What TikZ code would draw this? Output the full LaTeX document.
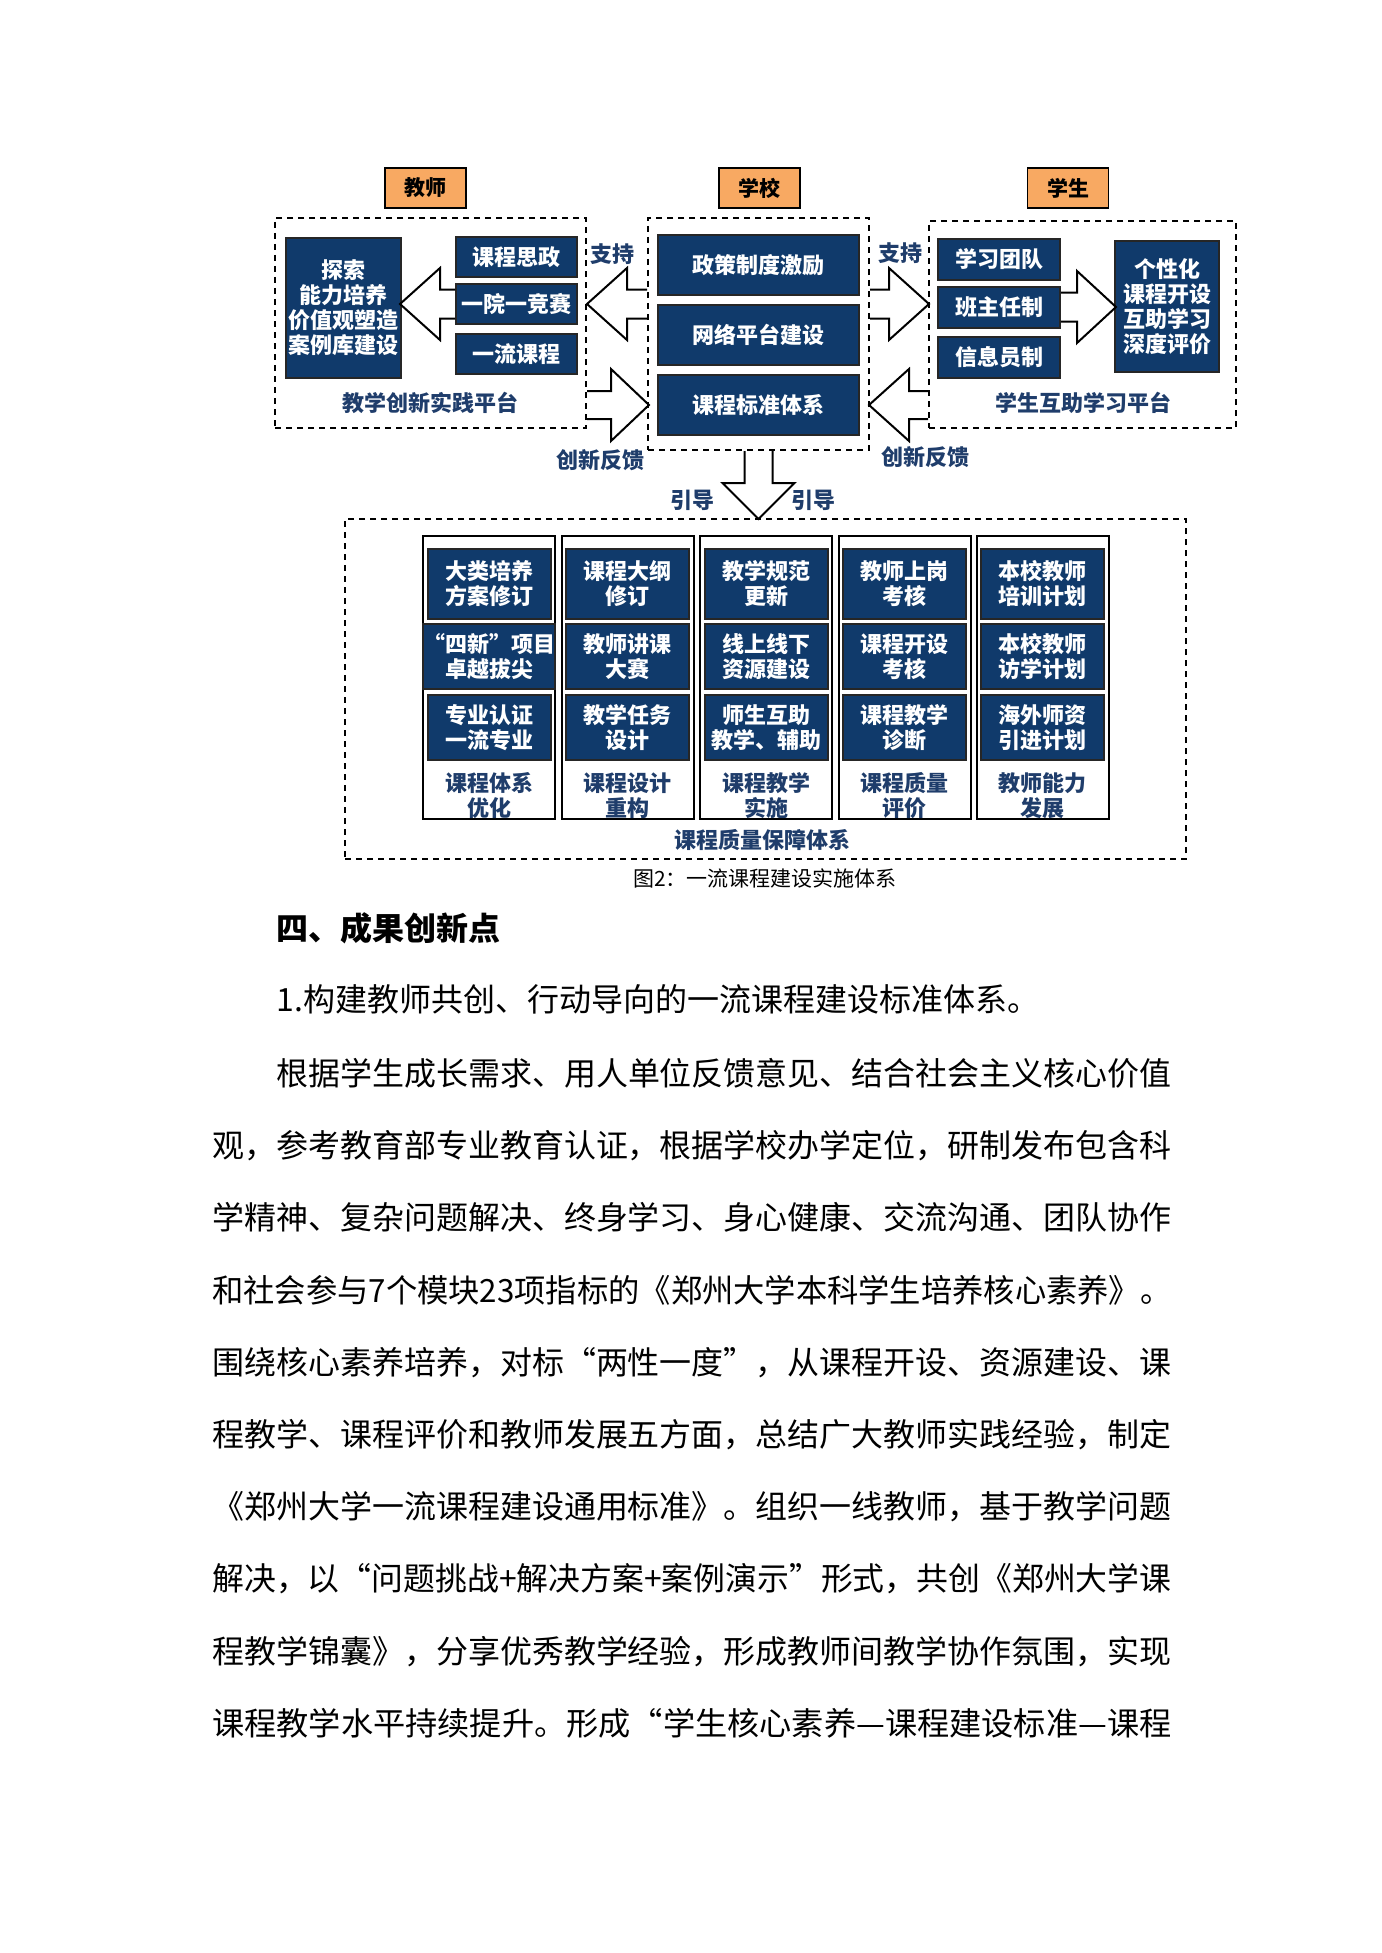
\documentclass[tikz,border=0pt]{standalone}
\usepackage{fontspec}
\setmainfont{Noto Sans CJK SC}
\definecolor{navy}{RGB}{16,58,107}
\definecolor{labelblue}{RGB}{31,61,107}
\definecolor{hdorange}{RGB}{248,169,98}
\tikzset{
  hdbox/.style={draw=black, line width=0.9pt, fill=hdorange, minimum width=40.5pt, minimum height=20pt, inner sep=0pt, font=\bfseries\fontsize{10.5}{12}\selectfont},
  platform/.style={draw=black, line width=1pt, dash pattern=on 3pt off 2.5pt, inner sep=0pt},
  navybox/.style={draw=black!85, line width=1pt, fill=navy, text=white, align=center, inner sep=0pt, font=\bfseries\fontsize{11}{12.5}\selectfont},
  cellA/.style={navybox, minimum width=61.5pt, minimum height=35pt},
  cellB/.style={navybox, minimum width=61.5pt, minimum height=32.5pt},
  colframe/.style={draw=black, line width=1pt, minimum width=66pt, minimum height=141.5pt, inner sep=0pt},
  lbl/.style={text=labelblue, align=center, inner sep=0pt, font=\bfseries\fontsize{11}{12.5}\selectfont},
  hollow/.style={draw=black, line width=1pt, line join=miter},
  bodyline/.style={anchor=west, inner sep=0pt, font=\fontsize{16}{16}\selectfont},
}
% tail, angle, length, shaft half width, head length
\newcommand{\hollowarrow}[5]{%
  \draw[hollow, shift={#1}, rotate=#2] (0,-#4) -- (#3-#5,-#4) -- (#3-#5,-36) -- (#3,0) -- (#3-#5,36) -- (#3-#5,#4) -- (0,#4);}
\newcommand{\fullline}[1]{\resizebox{479.5pt}{\height}{#1}}

\begin{document}
\begin{tikzpicture}[x=0.5pt, y=-0.5pt]
  \useasboundingbox (0,0) rectangle (1381,1953);
  % three actors
  \node[hdbox] (teacherhd) at (425.5,188) {教师};
  \node[hdbox] (schoolhd) at (759.5,188) {学校};
  \node[hdbox] (studenthd) at (1068,188) {学生};

  \node[platform, minimum width=155.5pt, minimum height=105pt] (tplat) at (430.5,323) {};
  \node[platform, minimum width=110.5pt, minimum height=116pt] (splat) at (758.5,334) {};
  \node[platform, minimum width=153.5pt, minimum height=103.5pt] (uplat) at (1082.5,324.5) {};
  \node[platform, minimum width=420.5pt, minimum height=170pt] (qplat) at (765.5,689) {};

  % teacher side
  \node[navybox, minimum width=57.5pt, minimum height=70pt] (tx) at (343.5,308) {探索\\能力培养\\价值观塑造\\案例库建设};
  \node[navybox, minimum width=60.5pt, minimum height=20pt] (t1) at (516.5,257) {课程思政};
  \node[navybox, minimum width=60.5pt, minimum height=20pt] (t2) at (516.5,304) {一院一竞赛};
  \node[navybox, minimum width=60.5pt, minimum height=20pt] (t3) at (516.5,354) {一流课程};
  \node[lbl] (tlbl) at (430,403) {教学创新实践平台};

  % school
  \node[navybox, minimum width=100.5pt, minimum height=30pt] (s1) at (758.5,265) {政策制度激励};
  \node[navybox, minimum width=100.5pt, minimum height=30pt] (s2) at (758.5,335) {网络平台建设};
  \node[navybox, minimum width=100.5pt, minimum height=30pt] (s3) at (758.5,405) {课程标准体系};

  % students
  \node[navybox, minimum width=61pt, minimum height=20.5pt] (u1) at (999,259.5) {学习团队};
  \node[navybox, minimum width=61pt, minimum height=20.5pt] (u2) at (999,307) {班主任制};
  \node[navybox, minimum width=61pt, minimum height=20.5pt] (u3) at (999,357) {信息员制};
  \node[navybox, minimum width=52pt, minimum height=65.5pt] (ux) at (1167,306.5) {个性化\\课程开设\\互助学习\\深度评价};
  \node[lbl] (ulbl) at (1083,403) {学生互助学习平台};

  \hollowarrow{(t2.west)}{180}{55}{14.5}{40}
  \hollowarrow{(splat.west |- t2)}{180}{60}{14.5}{40}
  \hollowarrow{(tplat.east |- s3)}{0}{62}{14}{38}
  \hollowarrow{(splat.east |- t2)}{0}{59}{14.5}{40}
  \hollowarrow{(uplat.west |- s3)}{180}{59}{14}{40}
  \hollowarrow{(u2.east)}{0}{55}{14.5}{39}
  \hollowarrow{(splat.south)}{-90}{68}{14}{36}

  \node[lbl] (zc1) at (612,254) {支持};
  \node[lbl] (zc2) at (900,253) {支持};
  \node[lbl] (fk1) at (600,460) {创新反馈};
  \node[lbl] (fk2) at (925,457) {创新反馈};
  \node[lbl] (yd1) at (692,500) {引导};
  \node[lbl] (yd2) at (813,500) {引导};

  % quality columns
  \node[colframe] (col1) at (489,677.5) {};
  \node[colframe] (col2) at (627.5,677.5) {};
  \node[colframe] (col3) at (766,677.5) {};
  \node[colframe] (col4) at (904.5,677.5) {};
  \node[colframe] (col5) at (1042.5,677.5) {};

  \node[cellA] (c1a) at (489,584) {大类培养\\方案修订};
  \node[cellB] (c1b) at (489,656.5) {“四新”项目\\卓越拔尖};
  \node[cellB] (c1c) at (489,727.5) {专业认证\\一流专业};
  \node[lbl] (c1l) at (489,796) {课程体系\\优化};

  \node[cellA] (c2a) at (627.5,584) {课程大纲\\修订};
  \node[cellB] (c2b) at (627.5,656.5) {教师讲课\\大赛};
  \node[cellB] (c2c) at (627.5,727.5) {教学任务\\设计};
  \node[lbl] (c2l) at (627.5,796) {课程设计\\重构};

  \node[cellA] (c3a) at (766,584) {教学规范\\更新};
  \node[cellB] (c3b) at (766,656.5) {线上线下\\资源建设};
  \node[cellB] (c3c) at (766,727.5) {师生互助\\教学、辅助};
  \node[lbl] (c3l) at (766,796) {课程教学\\实施};

  \node[cellA] (c4a) at (904.5,584) {教师上岗\\考核};
  \node[cellB] (c4b) at (904.5,656.5) {课程开设\\考核};
  \node[cellB] (c4c) at (904.5,727.5) {课程教学\\诊断};
  \node[lbl] (c4l) at (904.5,796) {课程质量\\评价};

  \node[cellA] (c5a) at (1042.5,584) {本校教师\\培训计划};
  \node[cellB] (c5b) at (1042.5,656.5) {本校教师\\访学计划};
  \node[cellB] (c5c) at (1042.5,727.5) {海外师资\\引进计划};
  \node[lbl] (c5l) at (1042.5,796) {教师能力\\发展};

  \node[lbl] (qlbl) at (762,840) {课程质量保障体系};
  \node[font=\fontsize{10.5}{12}\selectfont, inner sep=0pt] (caption) at (765,878) {图2：一流课程建设实施体系};

  % text below the figure
  \node[bodyline, font=\bfseries\fontsize{16}{16}\selectfont] (head) at (276,928) {四、成果创新点};
  \node[bodyline] (point1) at (276,999) {1.构建教师共创、行动导向的一流课程建设标准体系。};
  \node[bodyline] (line0) at (276,1073) {\resizebox{447.5pt}{\height}{根据学生成长需求、用人单位反馈意见、结合社会主义核心价值}};
  \node[bodyline] (line1) at (212,1145.3) {\fullline{观，参考教育部专业教育认证，根据学校办学定位，研制发布包含科}};
  \node[bodyline] (line2) at (212,1217.6) {\fullline{学精神、复杂问题解决、终身学习、身心健康、交流沟通、团队协作}};
  \node[bodyline] (line3) at (212,1289.9) {\fullline{和社会参与7个模块23项指标的《郑州大学本科学生培养核心素养》。}};
  \node[bodyline] (line4) at (212,1362.2) {\fullline{围绕核心素养培养，对标“两性一度”，从课程开设、资源建设、课}};
  \node[bodyline] (line5) at (212,1434.5) {\fullline{程教学、课程评价和教师发展五方面，总结广大教师实践经验，制定}};
  \node[bodyline] (line6) at (212,1506.8) {\fullline{《郑州大学一流课程建设通用标准》。组织一线教师，基于教学问题}};
  \node[bodyline] (line7) at (212,1579.1) {\fullline{解决，以“问题挑战+解决方案+案例演示”形式，共创《郑州大学课}};
  \node[bodyline] (line8) at (212,1651.4) {\fullline{程教学锦囊》，分享优秀教学经验，形成教师间教学协作氛围，实现}};
  \node[bodyline] (line9) at (212,1723.7) {\fullline{课程教学水平持续提升。形成“学生核心素养—课程建设标准—课程}};
\end{tikzpicture}
\end{document}
